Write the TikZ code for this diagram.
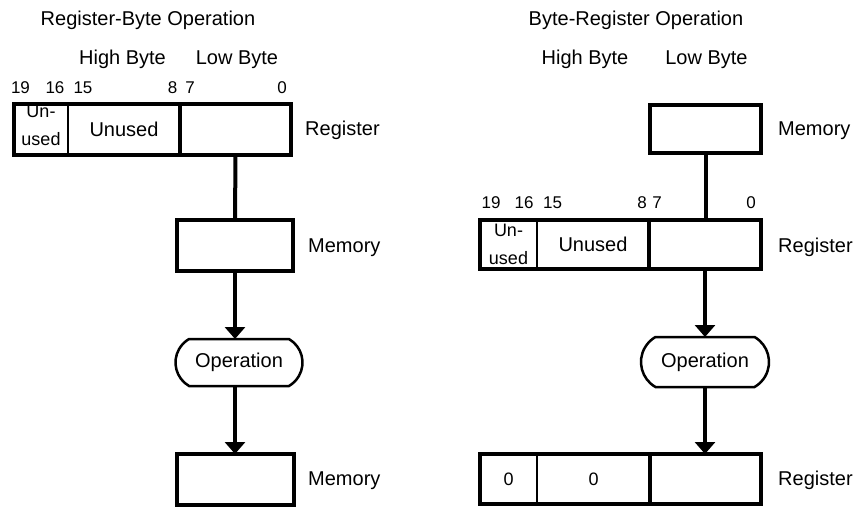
\documentclass[tikz,border=0pt]{standalone}
\usepackage{fontspec}
\setmainfont{Liberation Sans}
\usetikzlibrary{arrows.meta,shapes.misc}
\tikzset{
  txt/.style={inner sep=0pt, font=\fontsize{20}{24}\selectfont},
  bit/.style={inner sep=0pt, anchor=base, font=\fontsize{17}{20}\selectfont},
  cell/.style={draw, line width=1.6pt, inner sep=0pt, outer sep=0pt, anchor=west, align=center, font=\fontsize{20}{24}\selectfont},
  splitcell/.style={cell, font=\fontsize{18}{28}\selectfont},
  splittxt/.style={inner sep=0pt, align=center, font=\fontsize{18}{28}\selectfont},
  divider/.style={line width=3.3pt},
  regframe/.style={line width=4pt},
  memcell/.style={draw, line width=4pt, inner sep=0pt, outer sep=0pt},
  opnode/.style={draw, line width=2.5pt, rounded rectangle, rounded rectangle arc length=120, inner sep=0pt, outer sep=0pt, font=\fontsize{20}{24}\selectfont},
  link/.style={line width=4pt},
  flow/.style={line width=4pt, -{Triangle[width=20pt,length=12pt]}}
}
\begin{document}
\begin{tikzpicture}[x=1pt,y=-1pt]
\useasboundingbox[fill=white] (0,0) rectangle (857,509);
\node[txt,anchor=base] (ltitle) at (148,25) {Register-Byte Operation};
\node[txt,anchor=base] (lhigh) at (122.5,64) {High Byte};
\node[txt,anchor=base] (llow) at (237,64) {Low Byte};
\foreach \x/\b in {20.5/19,55/16,83/15,172.5/8,190/7,282/0}
  \node[bit] (lb\b) at (\x,93) {\b};
\node[cell, minimum width=54pt, minimum height=51pt] (lu) at (14,129.5) {};
\node[splittxt] (lutxt) at ([yshift=4pt]lu.center) {Un-\\used};
\node[cell, minimum width=112pt, minimum height=51pt] (lh) at (68,129.5) {Unused};
\node[cell, minimum width=111pt, minimum height=51pt] (ll) at (180,129.5) {};
\draw[divider] (ll.north west) -- (ll.south west);
\draw[regframe] (lu.north west) rectangle (ll.south east);
\node[txt,anchor=base west] (lreglbl) at (305,135) {Register};
\node[memcell, minimum width=116pt, minimum height=51pt] (lmem) at (235,245.5) {};
\node[txt,anchor=base west] (lmemlbl) at (308,252) {Memory};
\node[opnode, minimum width=127pt, minimum height=47pt] (lop) at (239,362.5) {Operation};
\node[memcell, minimum width=117pt, minimum height=51pt] (lres) at (235,479.5) {};
\node[txt,anchor=base west] (lreslbl) at (308,485) {Memory};
\draw[link] (ll.south) -- (lmem.north);
\draw[flow] (lmem.south) -- (lmem.south |- lop.north);
\draw[flow] (lres.north |- lop.south) -- (lres.north);
\node[txt,anchor=base] (rtitle) at (636,25) {Byte-Register Operation};
\node[txt,anchor=base] (rhigh) at (585,64) {High Byte};
\node[txt,anchor=base] (rlow) at (706.5,64) {Low Byte};
\node[memcell, minimum width=111pt, minimum height=48pt] (rmem) at (705.5,129) {};
\node[txt,anchor=base west] (rmemlbl) at (778,135) {Memory};
\foreach \x/\b in {491/19,524/16,552.5/15,642/8,657/7,751/0}
  \node[bit] (rb\b) at (\x,208) {\b};
\node[splitcell, minimum width=57pt, minimum height=49pt] (ru) at (480,244.5) {Un-\\used};
\node[cell, minimum width=112pt, minimum height=49pt] (rh) at (537,244.5) {Unused};
\node[cell, minimum width=112pt, minimum height=49pt] (rl) at (649,244.5) {};
\draw[divider] (rl.north west) -- (rl.south west);
\draw[regframe] (ru.north west) rectangle (rl.south east);
\node[txt,anchor=base west] (rreglbl) at (778,252) {Register};
\node[opnode, minimum width=128pt, minimum height=50pt] (rop) at (705,362) {Operation};
\node[splitcell, minimum width=57pt, minimum height=50pt] (bu) at (480,479) {0};
\node[splitcell, minimum width=113pt, minimum height=50pt] (bh) at (537,479) {0};
\node[cell, minimum width=111pt, minimum height=50pt] (bl) at (650,479) {};
\draw[divider] (bl.north west) -- (bl.south west);
\draw[regframe] (bu.north west) rectangle (bl.south east);
\node[txt,anchor=base west] (breglbl) at (778,485) {Register};
\draw[link] (rmem.south) -- (rmem.south |- rl.north);
\draw[flow] (rop.north |- rl.south) -- (rop.north);
\draw[flow] (rop.south) -- (rop.south |- bl.north);
\end{tikzpicture}
\end{document}
